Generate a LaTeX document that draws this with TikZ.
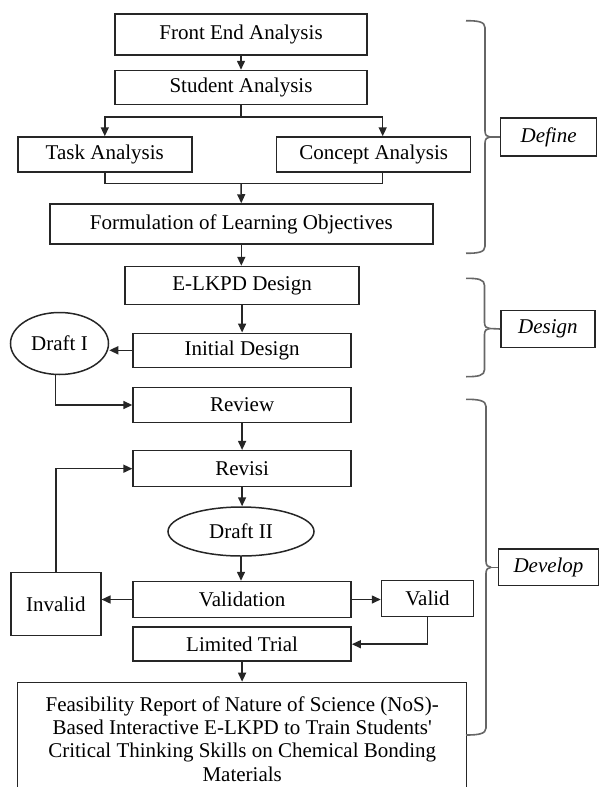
\documentclass[tikz,border=0pt]{standalone}
\usepackage{fontspec}
\setmainfont{Liberation Serif}
\usetikzlibrary{arrows.meta,shapes.geometric}
\newcommand\mybrace[5]{%
  \draw[brc] (466,#2) .. controls (478,#2) and (#1,#2+1) .. (#1,#2+7) -- (#1,#3-6)
     .. controls (#1,#3-2) and (#1+2,#3) .. (#1+5,#3);
  \draw[brc] (#1+5,#3) .. controls (#1+2,#3) and (#1,#3+2) .. (#1,#3+6) -- (#1,#4-7)
     .. controls (#1,#4-1) and (478,#4) .. (466,#4);
  \draw[brc] (#1+5,#3) -- (#5.west);
}
\begin{document}
\begin{tikzpicture}[x=1pt,y=-1pt,
  box/.style={draw=black!85, line width=1.5pt, rectangle, inner sep=0pt,
    font=\fontsize{21}{23.3}\selectfont},
  oval/.style={draw=black!85, line width=1.5pt, ellipse, inner sep=0pt,
    font=\fontsize{21}{23.3}\selectfont},
  lbl/.style={box, font=\fontsize{21}{23.3}\selectfont\itshape},
  ln/.style={line width=1.5pt, draw=black!85},
  arr/.style={ln, -{Triangle[length=9pt,width=8pt]}},
  brc/.style={draw=black!60, line width=1.6pt}]
\useasboundingbox (0,0) rectangle (598,787);

% Define phase
\node[box, minimum width=252, minimum height=41] (fe) at (241,34.5) {Front End Analysis};
\node[box, minimum width=252, minimum height=34] (sa) at (241,87.5) {Student Analysis};
\node[box, minimum width=174, minimum height=35] (ta) at (104.8,154.5) {Task Analysis};
\node[box, minimum width=194, minimum height=35] (ca) at (373.7,154.5) {Concept Analysis};
\node[box, minimum width=383, minimum height=40] (fo) at (241.3,224) {Formulation of Learning Objectives};

% Design phase
\node[box, minimum width=234, minimum height=38] (ed) at (242.1,285.5) {E-LKPD Design};
\node[box, minimum width=218, minimum height=34] (id) at (242.1,350.3) {Initial Design};
\node[oval, minimum width=98, minimum height=62] (d1) at (59.5,343.5) {Draft I};

% Develop phase
\node[box, minimum width=218, minimum height=35] (rv) at (242.1,405) {Review};
\node[box, minimum width=218, minimum height=36] (re) at (242.1,468.7) {Revisi};
\node[oval, minimum width=146, minimum height=49] (d2) at (241,531.5) {Draft II};
\node[box, minimum width=218, minimum height=36] (va) at (242.1,599.5) {Validation};
\node[box, minimum width=90, minimum height=63] (inv) at (55.8,604.2) {Invalid};
\node[box, minimum width=92, minimum height=36] (vl) at (427.5,598.7) {Valid};
\node[box, minimum width=218, minimum height=34] (lt) at (242.1,644.2) {Limited Trial};
\node[box, anchor=north, align=center, minimum width=449, minimum height=113] (rep) at (242.2,681.7)
  {Feasibility Report of Nature of Science (NoS)-\\
   Based Interactive E-LKPD to Train Students\textquotesingle\\
   Critical Thinking Skills on Chemical Bonding\\
   Materials};

% Phase labels
\node[lbl, minimum width=96, minimum height=37.7] (def) at (548.6,137) {Define};
\node[lbl, minimum width=94, minimum height=36.6] (des) at (547.9,329) {Design};
\node[lbl, minimum width=100, minimum height=36.7] (dev) at (548.5,567.3) {Develop};

% Connectors
\coordinate (b1) at (241,117);
\coordinate (m1) at (241,183.3);
\draw[arr] (fe.south) -- (sa.north);
\draw[ln] (sa.south) -- (b1);
\draw[arr] (b1) -| (ta.north);
\draw[arr] (b1) -| ([xshift=9pt]ca.north);
\draw[ln] (ta.south) |- (m1);
\draw[ln] ([xshift=9pt]ca.south) |- (m1);
\draw[arr] (m1) -- (fo.north);
\draw[arr] (fo.south) -- (fo.south |- ed.north);
\draw[arr] (ed.south) -- (id.north);
\draw[arr] (id.west) -- (d1.east |- id.west);
\draw[arr] ([xshift=-3.8pt]d1.south) |- (rv.west);
\draw[arr] (rv.south) -- (re.north);
\draw[arr] (re.south) -- (re.south |- d2.north);
\draw[arr] (d2.south) -- (d2.south |- va.north);
\draw[arr] (va.west) -- (inv.east |- va.west);
\draw[arr] (inv.north) |- (re.west);
\draw[arr] (va.east) -- (vl.west |- va.east);
\draw[arr] (vl.south) |- (lt.east);
\draw[arr] (lt.south) -- (lt.south |- rep.north);

% Braces
\mybrace{485}{20.7}{137}{253.3}{def}
\mybrace{484.5}{278.3}{328.5}{376.7}{des}
\mybrace{486}{399.3}{567.3}{735}{dev}
\end{tikzpicture}
\end{document}
